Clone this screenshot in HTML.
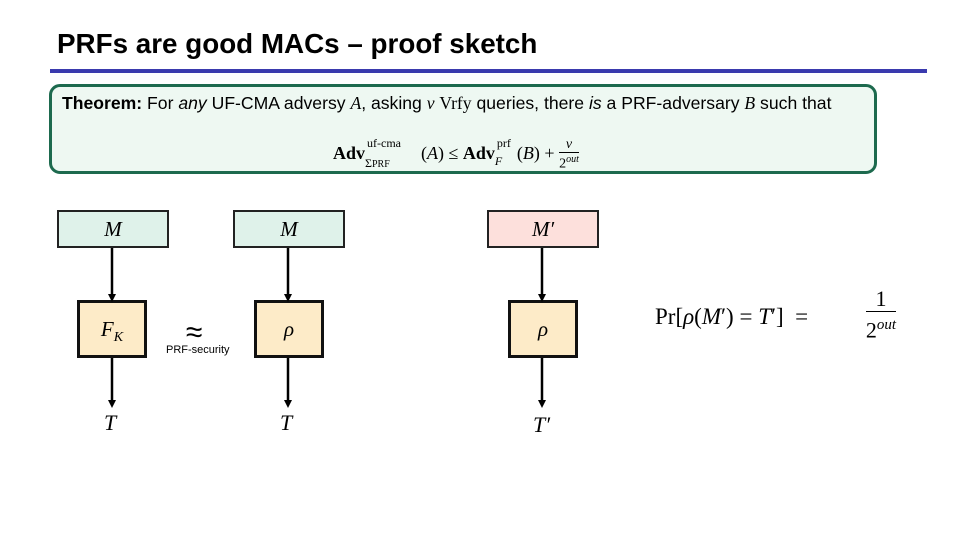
<!DOCTYPE html>
<html><head><meta charset="utf-8"><style>
body{margin:0;width:960px;height:540px;background:#fff;position:relative;overflow:hidden;font-family:"Liberation Sans",sans-serif}
.a{position:absolute}
.m{font-family:"Liberation Serif",serif;font-style:italic}
.box{position:absolute;box-sizing:border-box;display:flex;align-items:center;justify-content:center;font-family:"Liberation Serif",serif;font-style:italic;font-size:21px}
</style></head><body>
<div class="a" style="left:57px;top:28px;font-size:27.8px;font-weight:bold;white-space:nowrap">PRFs are good MACs – proof sketch</div>
<div class="a" style="left:50px;top:69px;width:877px;height:4px;background:#3a3aae"></div>
<div class="a" style="left:49px;top:84px;width:828px;height:90px;box-sizing:border-box;border:3px solid #1d6a4e;border-radius:11px;background:#eef8f2"></div>
<div class="a" style="left:62px;top:93px;font-size:17.6px;white-space:nowrap"><b>Theorem:</b> For <i>any</i> UF-CMA adversy <span class="m">A</span>, asking <span class="m">v</span> <span style="font-family:'Liberation Serif',serif">Vrfy</span> queries, there <i>is</i> a PRF-adversary <span class="m">B</span> such that</div>
<div class="a" style="left:333px;top:138px;font-family:'Liberation Serif',serif;font-size:18px;white-space:nowrap;line-height:20px"><b>Adv</b><span style="position:relative;display:inline-block;width:56px;height:14px;font-size:12px;vertical-align:baseline"><span style="position:absolute;top:-12px;left:2px">uf-cma</span><span style="position:absolute;top:8px;left:0">Σ<span style="font-size:10px">PRF</span></span></span>(<i>A</i>) ≤ <b>Adv</b><span style="position:relative;display:inline-block;width:22px;height:14px;font-size:12px"><span style="position:absolute;top:-12px;left:2px">prf</span><span style="position:absolute;top:6px;left:0"><i>F</i></span></span>(<i>B</i>) + <span style="display:inline-block;vertical-align:middle;text-align:center;font-size:14px;line-height:14px"><i>v</i><br><span style="border-top:1px solid #000;display:inline-block">2<sup style="font-size:10px"><i>out</i></sup></span></span></div>

<div class="box" style="left:57px;top:210px;width:112px;height:38px;border:2px solid #222;background:#dff2ea">M</div>
<div class="box" style="left:233px;top:210px;width:112px;height:38px;border:2px solid #222;background:#dff2ea">M</div>
<div class="box" style="left:487px;top:210px;width:112px;height:38px;border:2px solid #222;background:#fde0dc">M′</div>
<div class="box" style="left:77px;top:300px;width:70px;height:58px;border:3px solid #111;background:#fdebc8"><span>F<span style="font-size:14px;position:relative;top:5px">K</span></span></div>
<div class="box" style="left:254px;top:300px;width:70px;height:58px;border:3px solid #111;background:#fdebc8">ρ</div>
<div class="box" style="left:508px;top:300px;width:70px;height:58px;border:3px solid #111;background:#fdebc8">ρ</div>
<svg class="a" style="left:0;top:0" width="960" height="540">
<defs><marker id="ar" markerWidth="8" markerHeight="8" refX="4" refY="4" orient="auto" markerUnits="userSpaceOnUse"><path d="M0,0L8,4L0,8z" fill="#000"/></marker></defs>
<g stroke="#000" stroke-width="2.5" marker-end="url(#ar)">
<line x1="112" y1="248" x2="112" y2="298"/><line x1="288" y1="248" x2="288" y2="298"/><line x1="542" y1="248" x2="542" y2="298"/>
<line x1="112" y1="358" x2="112" y2="404"/><line x1="288" y1="358" x2="288" y2="404"/><line x1="542" y1="358" x2="542" y2="404"/>
</g></svg>
<div class="a m" style="left:104px;top:410px;font-size:22px">T</div>
<div class="a m" style="left:280px;top:410px;font-size:22px">T</div>
<div class="a m" style="left:533px;top:412px;font-size:22px">T′</div>
<div class="a" style="left:186px;top:316px;font-size:30px">≈</div>
<div class="a" style="left:166px;top:344px;font-size:11px">PRF-security</div>
<div class="a" style="left:655px;top:304px;font-family:'Liberation Serif',serif;font-size:23px;white-space:nowrap">Pr[<i>ρ</i>(<i>M</i>′) = <i>T</i>′] &nbsp;=</div>
<div class="a" style="left:856px;top:287px;font-family:'Liberation Serif',serif;font-size:22px;text-align:center;line-height:24px;width:50px"><span>1</span><br><span style="border-top:1.5px solid #000;display:inline-block;padding-top:1px">2<sup style="font-size:15px"><i>out</i></sup></span></div>
</body></html>
